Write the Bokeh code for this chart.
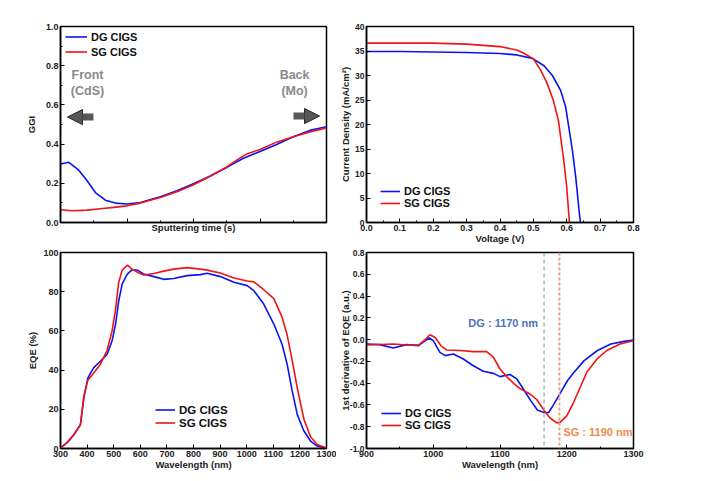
from bokeh.plotting import figure
from bokeh.models import (Range1d, FixedTicker, NumeralTickFormatter, CustomJSTickFormatter,
                          Legend, LegendItem, Label, Span, Arrow, NormalHead)
from bokeh.layouts import column, row
from bokeh.embed import file_html
from bokeh.resources import INLINE

FONT = "Liberation Sans"
BLUE = "#0a14f0"
RED = "#f01414"

# ---------------- data ----------------
# GGI depth profile (arbitrary sputtering-time units)
t_dg = [0, 12.5, 27.5, 40, 52.5, 67.5, 82.5, 100, 120, 150, 175, 200, 225, 250, 275, 300, 325, 350, 375, 400]
ggi_dg = [0.298, 0.307, 0.267, 0.213, 0.153, 0.114, 0.099, 0.094, 0.102, 0.131, 0.162, 0.198, 0.237,
          0.281, 0.328, 0.362, 0.398, 0.438, 0.470, 0.489]
t_sg = [0, 17.5, 40, 60, 80, 100, 120, 150, 175, 200, 225, 250, 265, 280, 300, 325, 350, 375, 400]
ggi_sg = [0.065, 0.060, 0.063, 0.070, 0.077, 0.085, 0.099, 0.128, 0.157, 0.193, 0.236, 0.284, 0.318,
          0.350, 0.372, 0.410, 0.438, 0.462, 0.482]

# J-V
v_dg = [0, 0.1, 0.2, 0.3, 0.4, 0.45, 0.497, 0.532, 0.557, 0.582, 0.597, 0.604, 0.617, 0.627, 0.637, 0.641]
j_dg = [34.9, 34.9, 34.8, 34.7, 34.5, 34.2, 33.5, 32.0, 30.0, 26.9, 23.5, 20.4, 14.7, 9.2, 2.4, 0.0]
v_sg = [0, 0.1, 0.2, 0.3, 0.4, 0.45, 0.47, 0.5, 0.52, 0.54, 0.56, 0.575, 0.59, 0.6, 0.608]
j_sg = [36.6, 36.6, 36.6, 36.4, 35.9, 35.2, 34.6, 33.4, 31.3, 28.6, 24.9, 20.8, 13.3, 7.2, 0.0]

# EQE
wl = [300, 325, 350, 375, 388, 403, 425, 450, 475, 494, 507, 519, 532, 551, 569, 588, 613, 651, 688,
      726, 776, 826, 851, 901, 952, 1002, 1027, 1064, 1102, 1133, 1152, 1171, 1190, 1215, 1240, 1265, 1300]
eqe_dg = [0.3, 3, 7, 12.3, 26, 36, 41.3, 44.5, 48, 55, 63.5, 75.4, 84, 89, 91.1, 91.1, 89, 87.7, 86.3,
          86.7, 88.2, 88.7, 89.4, 87.7, 84.8, 83.1, 80.5, 73.7, 63.5, 53.2, 43, 29.4, 17.4, 8.9, 3.8, 1.2, 0.3]
eqe_sg = [0.3, 3, 7, 12, 27, 35, 38.5, 43, 50, 60, 71, 85, 91, 93.5, 91.5, 90, 88.5, 89.3, 90.5,
          91.5, 92.3, 91.5, 91, 89.5, 87, 85.5, 85, 81, 76.5, 67, 58, 45, 31, 15, 6, 2, 0.3]

# 1st derivative of EQE
wd_dg = [900, 920, 940, 960, 978, 988, 994, 1000, 1010, 1018, 1030, 1045, 1060, 1075, 1090, 1100, 1115,
         1125, 1135, 1146, 1156, 1166, 1173, 1181, 1191, 1201, 1211, 1226, 1246, 1266, 1286, 1300]
d_dg = [-0.040, -0.046, -0.077, -0.046, -0.055, -0.010, 0.015, -0.010, -0.117, -0.147, -0.132, -0.178,
        -0.24, -0.29, -0.31, -0.34, -0.32, -0.36, -0.454, -0.56, -0.647, -0.669, -0.669, -0.59, -0.485,
        -0.378, -0.30, -0.193, -0.10, -0.04, -0.016, -0.003]
wd_sg = [900, 940, 960, 978, 988, 995, 1003, 1012, 1020, 1040, 1060, 1080, 1090, 1100, 1110, 1120, 1130,
         1145, 1155, 1166, 1175, 1185, 1190, 1200, 1210, 1220, 1230, 1245, 1260, 1280, 1300]
d_sg = [-0.05, -0.04, -0.05, -0.05, 0.0, 0.045, 0.02, -0.06, -0.095, -0.10, -0.11, -0.11, -0.16, -0.27,
        -0.34, -0.40, -0.45, -0.50, -0.55, -0.65, -0.72, -0.765, -0.76, -0.70, -0.58, -0.44, -0.30, -0.18,
        -0.10, -0.04, -0.01]

dg_edge = 1166
sg_edge = 1189
series_names = ["DG CIGS", "SG CIGS"]


def make_fig(w, h, xr, yr, bl, br, bt, bb, xlabel, ylabel, xticks, yticks, xminor, yminor, xfmt, yfmt):
    p = figure(width=w, height=h, x_range=Range1d(*xr), y_range=Range1d(*yr),
               output_backend="svg", toolbar_location=None,
               min_border_left=bl, min_border_right=br, min_border_top=bt, min_border_bottom=bb)
    p.grid.visible = False
    p.outline_line_color = "black"
    p.outline_line_width = 1.5
    p.xaxis.ticker = FixedTicker(ticks=xticks, minor_ticks=xminor)
    p.yaxis.ticker = FixedTicker(ticks=yticks, minor_ticks=yminor)
    p.xaxis.formatter = xfmt
    p.yaxis.formatter = yfmt
    p.xaxis.axis_label = xlabel
    p.yaxis.axis_label = ylabel
    for ax in p.axis:
        ax.axis_line_width = 1.5
        ax.axis_line_color = "black"
        ax.major_tick_in = 4
        ax.major_tick_out = 0
        ax.minor_tick_in = 2
        ax.minor_tick_out = 0
        ax.major_tick_line_width = 1
        ax.minor_tick_line_width = 1
        ax.major_label_text_font = FONT
        ax.major_label_text_font_style = "bold"
        ax.major_label_text_font_size = "9px"
        ax.major_label_text_color = "#222222"
        ax.major_label_standoff = 2
        ax.axis_label_text_font = FONT
        ax.axis_label_text_font_style = "bold"
        ax.axis_label_text_font_size = "9.5px"
        ax.axis_label_text_color = "#222222"
    p.xaxis.axis_label_standoff = -1
    p.yaxis.axis_label_standoff = 2
    return p


def add_legend(p, r1, r2, loc, glyph_h, font_size, gw=22):
    leg = Legend(items=[LegendItem(label=series_names[0], renderers=[r1]),
                        LegendItem(label=series_names[1], renderers=[r2])],
                 location=loc, orientation="vertical", padding=0, margin=0, spacing=0,
                 glyph_width=gw, glyph_height=glyph_h, label_height=glyph_h, label_standoff=4,
                 border_line_alpha=0, background_fill_alpha=0,
                 label_text_font=FONT, label_text_font_style="bold",
                 label_text_font_size=font_size, label_text_color="#111111")
    p.add_layout(leg)


one_dec = NumeralTickFormatter(format="0.0")
ints = NumeralTickFormatter(format="0")

# layout sizes (frames: left 60..326, right 366..633; rows 26..222, 252..448)
LW, RW = 336, 311
TH, BH = 246, 226

# ---------- top-left: GGI ----------
p1 = make_fig(LW, TH, (0, 400), (0, 1.0), 60, 10, 26, 24, "Sputtering time (s)", "GGI",
              [100, 200, 300], [0, 0.2, 0.4, 0.6, 0.8, 1.0], [50, 150, 250, 350],
              [0.1, 0.3, 0.5, 0.7, 0.9], CustomJSTickFormatter(code="return ''"), one_dec)
p1.xaxis.major_label_text_font_size = "1px"
p1.yaxis.axis_label_standoff = 6
r1 = p1.line(t_dg, ggi_dg, line_color=BLUE, line_width=1.6)
r2 = p1.line(t_sg, ggi_sg, line_color=RED, line_width=1.6)
add_legend(p1, r1, r2, (5, 163), 15, "11px")
for txt, xx, yy in [("Front", 40.6, 0.755), ("(CdS)", 40.6, 0.673), ("Back", 352, 0.755), ("(Mo)", 352, 0.673)]:
    p1.add_layout(Label(x=xx, y=yy, text=txt, text_font=FONT, text_font_style="bold",
                        text_font_size="12.5px", text_color="#8a8a8a",
                        text_align="center", text_baseline="middle"))
for xs, xe, yv in [(49.6, 10.5, 0.538), (350.4, 389.5, 0.543)]:
    p1.add_layout(Arrow(end=NormalHead(size=15, fill_color="#575757", line_color="#222222", line_width=1),
                        x_start=xs, y_start=yv, x_end=xe, y_end=yv,
                        line_color="#575757", line_width=7))

# ---------- top-right: J-V ----------
p2 = make_fig(RW, TH, (0, 0.8), (0, 40), 30, 14, 26, 24, "Voltage (V)", "Current Density (mA/cm²)",
              [0, 0.1, 0.2, 0.3, 0.4, 0.5, 0.6, 0.7, 0.8], list(range(0, 41, 5)),
              [0.05, 0.15, 0.25, 0.35, 0.45, 0.55, 0.65, 0.75], [], one_dec, ints)
r1 = p2.line(v_dg, j_dg, line_color=BLUE, line_width=1.6)
r2 = p2.line(v_sg, j_sg, line_color=RED, line_width=1.6)
add_legend(p2, r1, r2, (14, 13), 12, "11px", gw=20)

# ---------- bottom-left: EQE ----------
p3 = make_fig(LW, BH, (300, 1300), (0, 100), 60, 10, 6, 24, "Wavelength (nm)", "EQE (%)",
              list(range(300, 1301, 100)), list(range(0, 101, 20)), [], [], ints, ints)
r1 = p3.line(wl, eqe_dg, line_color=BLUE, line_width=1.6)
r2 = p3.line(wl, eqe_sg, line_color=RED, line_width=1.6)
add_legend(p3, r1, r2, (95, 19), 13, "11.5px", gw=20)

# ---------- bottom-right: derivative ----------
p4 = make_fig(RW, BH, (900, 1300), (-1.0, 0.8), 30, 14, 6, 24, "Wavelength (nm)",
              "1st derivative of EQE (a.u.)",
              [900, 1000, 1100, 1200, 1300], [-1.0, -0.8, -0.6, -0.4, -0.2, 0, 0.2, 0.4, 0.6, 0.8],
              [950, 1050, 1150, 1250], [], ints, one_dec)
p4.add_layout(Span(location=dg_edge, dimension="height", line_color="#8c8c8c", line_dash="4 3", line_width=1))
p4.add_layout(Span(location=sg_edge, dimension="height", line_color="#eba27c", line_dash="3 2", line_width=2))
r1 = p4.line(wd_dg, d_dg, line_color=BLUE, line_width=1.6)
r2 = p4.line(wd_sg, d_sg, line_color=RED, line_width=1.6)
add_legend(p4, r1, r2, (15, 17), 12, "11px", gw=20)
p4.add_layout(Label(x=1157, y=0.148, text="DG : 1170 nm", text_font=FONT, text_font_style="bold",
                    text_font_size="11px", text_color="#4a72c4", text_align="right", text_baseline="middle"))
p4.add_layout(Label(x=1195, y=-0.853, text="SG : 1190 nm", text_font=FONT, text_font_style="bold",
                    text_font_size="11px", text_color="#f08a4b", text_align="left", text_baseline="middle"))

for p in (p2, p4):
    p.yaxis.major_label_text_font_size = "8.5px"
p2.yaxis.axis_label_standoff = 1
p4.yaxis.axis_label_standoff = -4

layout = column(row(p1, p2), row(p3, p4))
open("out.html", "w").write(file_html(layout, INLINE))
